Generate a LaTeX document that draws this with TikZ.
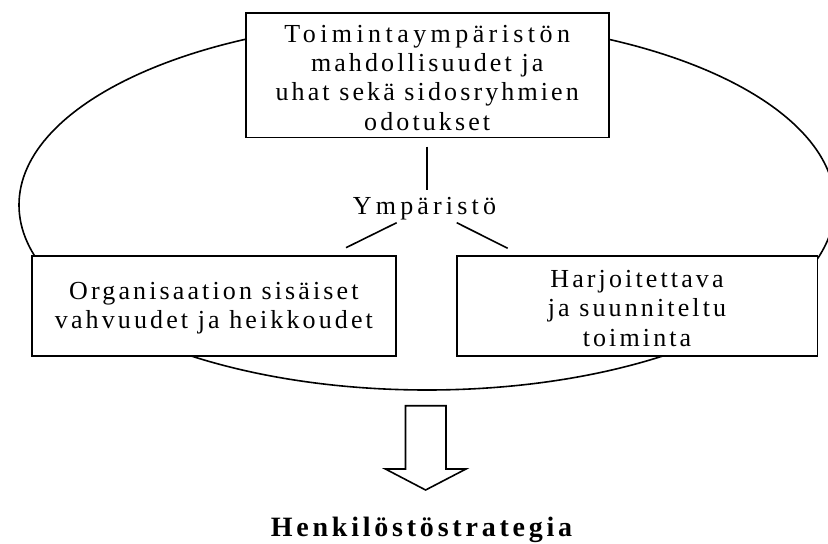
\documentclass[tikz,border=0pt]{standalone}
\usepackage{fontspec}
\setmainfont{Liberation Serif}
\newfontfamily\spN[LetterSpace=12]{Liberation Serif}
\newfontfamily\spW[LetterSpace=17]{Liberation Serif}
\newfontfamily\spY[LetterSpace=16]{Liberation Serif}
\newfontfamily\spH[LetterSpace=13.5]{Liberation Serif}
\usetikzlibrary{shapes.geometric}
\tikzset{
  ln/.style={line width=1.6bp, black},
  box/.style={draw, ln, fill=white, inner sep=0pt},
  boxtext/.style={inner sep=0pt, align=center, yshift=-2.5bp,
    font=\spN\fontsize{26bp}{29.3bp}\selectfont},
  lbl/.style={inner sep=0pt, font=\spY\fontsize{26bp}{29.3bp}\selectfont},
  ring/.style={draw, ln, ellipse, inner sep=0pt},
  blockarrow/.style={draw, ln, fill=white, line join=miter}
}
\begin{document}
\begin{tikzpicture}[x=1bp, y=-1bp]
\useasboundingbox (0,0) rectangle (828,544);
\clip (0,0) rectangle (828,544);
\fill[white] (0,0) rectangle (828,544);
% environment ellipse
\node[ring, minimum width=816bp, minimum height=370bp] (env) at (427,205) {};
% boxes
\node[box, minimum width=363bp, minimum height=124.5bp] (top) at (427.2,75.2) {};
\node[boxtext] (topT) at (top.center)
  {{\spW Toimintaympäristön}\\mahdollisuudet ja\\uhat sekä sidosryhmien\\odotukset};
\node[box, minimum width=364.3bp, minimum height=100bp] (left) at (213.9,306) {};
\node[boxtext] (leftT) at (left.center)
  {Organisaation sisäiset\\vahvuudet ja heikkoudet};
\node[box, minimum width=360.6bp, minimum height=100bp] (right) at (637,306) {};
\node[boxtext] (rightT) at (right.center)
  {Harjoitettava\\ja suunniteltu\\toiminta};
% centre label
\node[lbl, anchor=base] (ymp) at (424.5,215) {Ympäristö};
% connectors
\coordinate (v1) at (426.7,146.7);
\coordinate (v2) at (426.7,190);
\draw[ln] (v1) -- (v2);
\coordinate (la) at (396.7,222.7);
\coordinate (lb) at (346,247.7);
\draw[ln] (la) -- (lb);
\coordinate (ra) at (456.7,222.7);
\coordinate (rb) at (507.7,248.3);
\draw[ln] (ra) -- (rb);
% block arrow
\coordinate (ar) at (425.7,405.7);
\draw[blockarrow] (ar) ++(-20.2,0) -- ++(0,63.3) -- ++(-20.1,0) -- (425.6,490)
  -- (466,469) -- ++(-20,0) -- ++(0,-63.3) -- cycle;
% result
\node[inner sep=0pt, anchor=base, font=\spH\bfseries\fontsize{28bp}{32bp}\selectfont] (res) at (421.5,536) {Henkilöstöstrategia};
\end{tikzpicture}
\end{document}
